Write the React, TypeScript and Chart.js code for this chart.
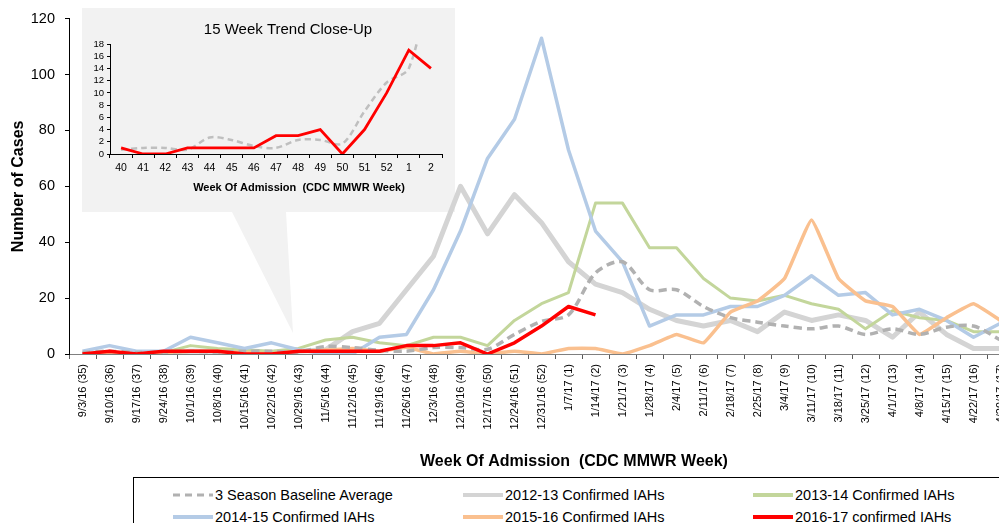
import React, { useEffect, useRef } from 'react';
import { Chart, registerables } from 'chart.js';

Chart.register(...registerables);
Chart.defaults.font.family = "'Liberation Sans', Arial, sans-serif";

const weekLabels = ['9/3/16 (35)', '9/10/16 (36)', '9/17/16 (37)', '9/24/16 (38)', '10/1/16 (39)', '10/8/16 (40)', '10/15/16 (41)', '10/22/16 (42)', '10/29/16 (43)', '11/5/16 (44)', '11/12/16 (45)', '11/19/16 (46)', '11/26/16 (47)', '12/3/16 (48)', '12/10/16 (49)', '12/17/16 (50)', '12/24/16 (51)', '12/31/16 (52)', '1/7/17 (1)', '1/14/17 (2)', '1/21/17 (3)', '1/28/17 (4)', '2/4/17 (5)', '2/11/17 (6)', '2/18/17 (7)', '2/25/17 (8)', '3/4/17 (9)', '3/11/17 (10)', '3/18/17 (11)', '3/25/17 (12)', '4/1/17 (13)', '4/8/17 (14)', '4/15/17 (15)', '4/22/17 (16)', '4/29/17 (17)'];

const baseline = [0.5, 1, 0.5, 0.7, 1, 0.7, 1, 1, 0.7, 2.7, 2.3, 1.3, 1, 2.3, 2.3, 1.7, 7, 11.7, 14, 29, 33, 23, 23, 17, 13, 11.4, 10, 9, 10, 7, 9, 7, 9.6, 10, 5];
const s1213 = [0, 0, 0, 0.5, 1, 1, 0.5, 0.5, 1, 1.5, 8, 11, 23, 35, 60, 43, 57, 47, 33, 25, 22, 16, 12, 10, 12, 8, 15, 12, 14, 12, 6, 15, 7, 2, 2];
const s1314 = [0, 0, 0, 0.5, 3, 2, 1.5, 1, 2, 5, 6, 4, 3, 6, 6, 3, 12, 18, 22, 54, 54, 38, 38, 27, 20, 19, 21, 18, 16, 9, 15.5, 13, 12, 8, 8];
const s1415 = [1, 3, 1, 1, 6, 4, 2, 4, 1.5, 0, 0, 6, 7, 23, 44, 70, 84, 113, 73, 44, 33, 10, 14, 14, 17, 17, 21, 28, 21, 22, 14, 16, 12, 6, 11];
const s1516 = [0, 0.5, 0, 0.5, 1, 1, 0.5, 0, 1, 1.4, 2, 1, 2.4, 0, 1, 0, 1, 0, 2, 2, 0, 3, 7, 4, 15, 19, 27, 48, 27, 19, 17, 7, 13, 18, 12];
const s1617 = [0, 1, 0, 1, 1, 1, 0, 0, 1, 1, 1, 1, 3, 3, 4, 0, 4, 10, 17, 14, null, null, null, null, null, null, null, null, null, null, null, null, null, null, null];

const yTicksMain = { min: 0, max: 120, step: 20 };
const insetWeeks = ['40', '41', '42', '43', '44', '45', '46', '47', '48', '49', '50', '51', '52', '1', '2'];
const insetStart = 5;
const yTicksInset = { min: 0, max: 18, step: 2 };

const FONT = "'Liberation Sans', Arial, sans-serif";
const MAIN_W = 1030;
const MAIN_H = 475;
const INSET_L = 82;
const INSET_T = 8;
const INSET_W = 373;
const INSET_H = 204;

const seriesDefs = [
  { label: '3 Season Baseline Average', data: baseline, color: '#b1b1b1', width: 3.5, dash: [8, 5], tension: 0.3, order: 1 },
  { label: '2012-13 Confirmed IAHs', data: s1213, color: '#d4d4d4', width: 5, dash: [], tension: 0, order: 5 },
  { label: '2013-14 Confirmed IAHs', data: s1314, color: '#c3d69b', width: 3, dash: [], tension: 0, order: 4 },
  { label: '2014-15 Confirmed IAHs', data: s1415, color: '#b4cbe6', width: 3.5, dash: [], tension: 0, order: 3 },
  { label: '2015-16 Confirmed IAHs', data: s1516, color: '#fac08f', width: 3.5, dash: [], tension: 0.1, order: 2 },
  { label: '2016-17 confirmed IAHs', data: s1617, color: '#ff0000', width: 3.5, dash: [], tension: 0, order: 0 },
];

const textPlugin = {
  id: 'extraText',
  afterDraw(chart: any, _args: any, opts: any) {
    const ctx = chart.ctx;
    (opts.items || []).forEach((it: any) => {
      ctx.save();
      ctx.font = it.font;
      ctx.fillStyle = it.color || '#000';
      ctx.textAlign = 'center';
      ctx.textBaseline = 'middle';
      ctx.fillText(it.text, it.x, it.y);
      ctx.restore();
    });
  },
};

export default function App() {
  const mainRef = useRef<HTMLCanvasElement>(null);
  const insetRef = useRef<HTMLCanvasElement>(null);

  useEffect(() => {
    const main = new Chart(mainRef.current as HTMLCanvasElement, {
      type: 'line',
      data: {
        labels: weekLabels,
        datasets: seriesDefs.map((s) => ({
          label: s.label,
          data: s.data,
          borderColor: s.color,
          backgroundColor: s.color,
          borderWidth: s.width,
          borderDash: s.dash,
          tension: s.tension,
          order: s.order,
          fill: false,
          pointRadius: 0,
          pointHoverRadius: 0,
        })),
      },
      options: {
        animation: false,
        responsive: false,
        maintainAspectRatio: false,
        devicePixelRatio: 1,
        events: [],
        elements: { line: { borderJoinStyle: 'round', borderCapStyle: 'butt' } },
        layout: { padding: { left: 0, right: 16, top: 14, bottom: 0 } },
        plugins: {
          legend: { display: false },
          tooltip: { enabled: false },
          extraText: {
            items: [
              { text: 'Week Of Admission  (CDC MMWR Week)', x: 574, y: 462, font: `bold 16px ${FONT}` },
            ],
          },
        } as any,
        scales: {
          x: {
            offset: true,
            grid: { offset: true, drawOnChartArea: false, drawTicks: true, tickLength: 5, color: '#595959' },
            border: { color: '#7f7f7f', width: 1 },
            ticks: {
              autoSkip: false,
              maxRotation: 90,
              minRotation: 90,
              padding: 5,
              color: '#000',
              font: { family: FONT, size: 11 },
            },
            afterFit: (s: any) => { s.height = MAIN_H - 354; },
          },
          y: {
            min: yTicksMain.min,
            max: yTicksMain.max,
            grid: { drawOnChartArea: false, drawTicks: true, tickLength: 4, color: '#000' },
            border: { color: '#000', width: 1 },
            ticks: { stepSize: yTicksMain.step, padding: 10, color: '#000', font: { family: FONT, size: 14.5 } },
            title: {
              display: true,
              text: 'Number of Cases',
              color: '#000',
              font: { family: FONT, size: 16, weight: 'bold' },
              padding: { top: 9, bottom: 0 },
            },
            afterFit: (s: any) => { s.width = 69; },
          },
        },
      },
      plugins: [textPlugin],
    });

    const inset = new Chart(insetRef.current as HTMLCanvasElement, {
      type: 'line',
      data: {
        labels: insetWeeks,
        datasets: [
          {
            label: '3 Season Baseline Average',
            data: baseline.slice(insetStart, insetStart + insetWeeks.length),
            borderColor: '#bfbfbf',
            borderWidth: 2.5,
            borderDash: [6, 4],
            tension: 0.3,
            order: 1,
            pointRadius: 0,
            fill: false,
          },
          {
            label: '2016-17 confirmed IAHs',
            data: s1617.slice(insetStart, insetStart + insetWeeks.length),
            borderColor: '#ff0000',
            borderWidth: 2.8,
            tension: 0,
            order: 0,
            pointRadius: 0,
            fill: false,
          },
        ],
      },
      options: {
        animation: false,
        responsive: false,
        maintainAspectRatio: false,
        devicePixelRatio: 1,
        events: [],
        layout: { padding: { left: 0, right: INSET_W - 360, top: 36, bottom: 0 } },
        plugins: {
          legend: { display: false },
          tooltip: { enabled: false },
          extraText: {
            items: [
              { text: '15 Week Trend Close-Up', x: 206, y: 22, font: `15px ${FONT}` },
              { text: 'Week Of Admission  (CDC MMWR Week)', x: 217, y: 180, font: `bold 11px ${FONT}` },
            ],
          },
        } as any,
        scales: {
          x: {
            offset: true,
            grid: { offset: true, drawOnChartArea: false, drawTicks: true, tickLength: 4, color: '#000' },
            border: { color: '#000', width: 1 },
            ticks: { autoSkip: false, maxRotation: 0, minRotation: 0, padding: 4, color: '#000', font: { family: FONT, size: 10.5 } },
            afterFit: (s: any) => { s.height = INSET_H - 146; },
          },
          y: {
            min: yTicksInset.min,
            max: yTicksInset.max,
            grid: { drawOnChartArea: false, drawTicks: true, tickLength: 3, color: '#000' },
            border: { color: '#000', width: 1 },
            ticks: { autoSkip: false, stepSize: yTicksInset.step, padding: 3, color: '#000', font: { family: FONT, size: 9.5 } },
            afterFit: (s: any) => { s.width = 28; },
          },
        },
      },
      plugins: [textPlugin],
    });

    return () => {
      main.destroy();
      inset.destroy();
    };
  }, []);

  const colX = [39, 329, 619];
  const rowY = [17, 39];

  return (
    <div style={{ position: 'fixed', left: 0, top: 0, width: 999, height: 523, overflow: 'hidden', background: '#fff' }}>
      <svg width={999} height={523} style={{ position: 'absolute', left: 0, top: 0, zIndex: 0 }}>
        <polygon points="82,8 455,8 455,212 286,212 293,333 232,212 82,212" fill="#f2f2f2" />
      </svg>
      <canvas
        ref={mainRef}
        width={MAIN_W}
        height={MAIN_H}
        style={{ position: 'absolute', left: 0, top: 0, width: MAIN_W, height: MAIN_H, zIndex: 1 }}
      />
      <canvas
        ref={insetRef}
        width={INSET_W}
        height={INSET_H}
        style={{ position: 'absolute', left: INSET_L, top: INSET_T, width: INSET_W, height: INSET_H, zIndex: 2 }}
      />
      <div
        style={{
          position: 'absolute', left: 133, top: 477, width: 900, height: 60,
          border: '1px solid #000', boxSizing: 'border-box', background: '#fff', zIndex: 3,
          fontFamily: FONT, fontSize: 14.5, color: '#000',
        }}
      >
        {seriesDefs.map((s, i) => {
          const col = i % 3;
          const row = Math.floor(i / 3);
          return (
            <div key={s.label} style={{ position: 'absolute', left: colX[col], top: rowY[row] - 9, height: 18, display: 'flex', alignItems: 'center', whiteSpace: 'nowrap' }}>
              <svg width={40} height={8} style={{ display: 'block' }}>
                <line x1={0} y1={4} x2={40} y2={4} stroke={s.color} strokeWidth={i === 0 ? 3 : 4} strokeDasharray={s.dash.length ? '7 5' : undefined} />
              </svg>
              <span style={{ marginLeft: 2 }}>{s.label}</span>
            </div>
          );
        })}
      </div>
    </div>
  );
}
